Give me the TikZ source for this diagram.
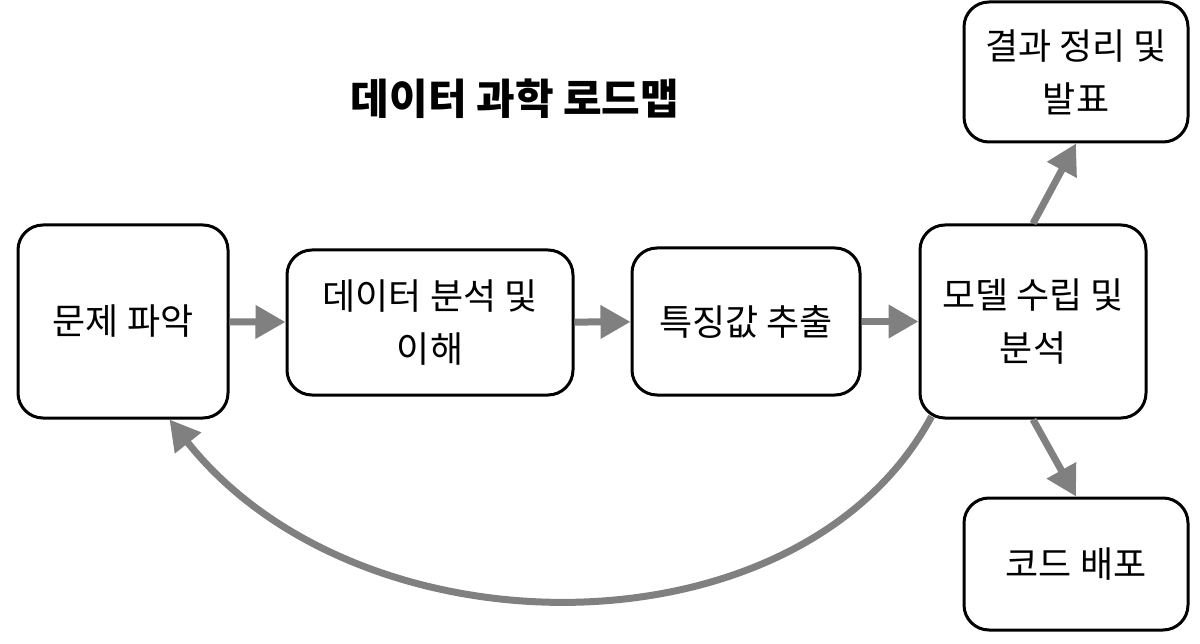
\documentclass[tikz,border=0pt]{standalone}
\usepackage{fontspec}
\setmainfont{Noto Sans CJK KR}
\usetikzlibrary{arrows.meta,calc}
\definecolor{arrowgray}{RGB}{128,128,128}
\tikzset{
  box/.style={draw=black, line width=3pt, rounded corners=25pt, fill=white,
    align=center, inner sep=0pt, font=\fontsize{36}{53}\selectfont},
  flow/.style={draw=arrowgray, line width=7pt,
    -{Triangle[length=30pt,width=32pt]}},
}
\begin{document}
\begin{tikzpicture}[x=1pt,y=-1pt]
\useasboundingbox (0,0) rectangle (1200,644);
\node[font=\bfseries\fontsize{42}{50}\selectfont] (T) at (515,99) {데이터 과학 로드맵};
\node[box, minimum width=210pt, minimum height=193pt] (A) at (123,321.5) {문제 파악};
\node[box, minimum width=286pt, minimum height=145pt] (B) at (430,322.5) {데이터 분석 및\\이해};
\node[box, minimum width=228pt, minimum height=147pt] (C) at (746,321.5) {특징값 추출};
\node[box, minimum width=226pt, minimum height=193pt] (D) at (1033,321.5) {모델 수립 및\\분석};
\node[box, minimum width=224pt, minimum height=140pt] (E) at (1076,72) {결과 정리 및\\발표};
\node[box, minimum width=224pt, minimum height=132pt] (F) at (1076,564) {코드 배포};
\draw[flow] (A) -- (B);
\draw[flow] (B) -- (C);
\draw[flow] (C) -- (D);
\draw[flow] (D.north) -- (E.south);
\draw[flow] (D.south) -- (F.north);
\coordinate (cs) at ($(D.south west)+(13,-3)$);
\coordinate (ce) at ($(A.south east)+(-60,0)$);
\draw[flow] (cs) .. controls (800,660) and (360,660) .. (ce);
\end{tikzpicture}
\end{document}
